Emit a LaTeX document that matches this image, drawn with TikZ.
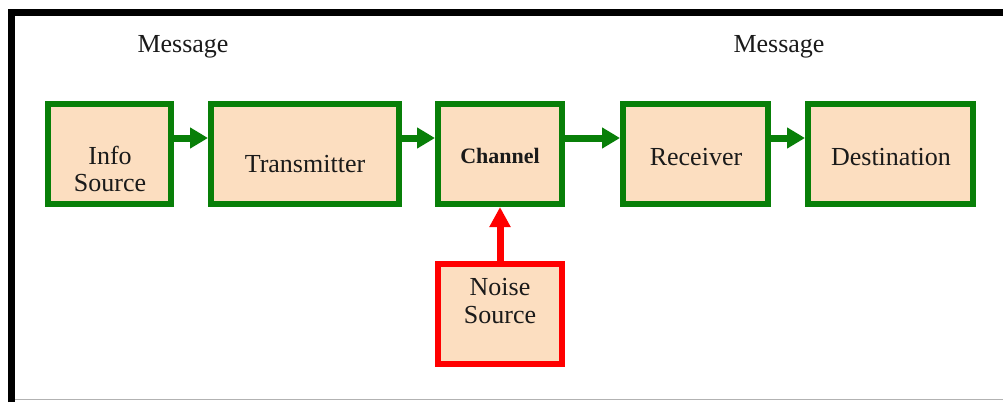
\documentclass[tikz,border=0pt]{standalone}
\usepackage{fontspec}
\setmainfont{Liberation Serif}
\usetikzlibrary{arrows.meta}
\definecolor{boxfill}{HTML}{FCDEC0}
\definecolor{boxgreen}{HTML}{087F08}
\definecolor{boxred}{HTML}{FF0000}
\definecolor{txt}{HTML}{1A1A1A}
\tikzset{
  box/.style={draw=boxgreen, line width=6pt, fill=boxfill, rectangle, inner sep=0pt},
  noisebox/.style={draw=boxred, line width=6pt, fill=boxfill, rectangle, inner sep=0pt},
  lbl/.style={anchor=base, inner sep=0pt, text=txt, font=\fontsize{26}{27}\selectfont},
  flow/.style={draw=boxgreen, line width=7pt, -{Triangle[length=18pt,width=20pt]}},
  noiseflow/.style={draw=boxred, line width=7pt, -{Triangle[length=20pt,width=20pt]}}
}
\begin{document}
\begin{tikzpicture}[x=1pt,y=-1pt]
\useasboundingbox (0,0) rectangle (1003,402);
\fill[white] (0,0) rectangle (1003,402);
% frame
\draw[gray!60, line width=1pt] (15,399.5) -- (1003,399.5);
\draw[black, line width=7pt] (11.5,402) -- (11.5,12.5) -- (1003,12.5);
% boxes
\node[box, minimum width=123pt, minimum height=100pt] (info) at (109.5,154) {};
\node[box, minimum width=188pt, minimum height=100pt] (trans) at (305,154) {};
\node[box, minimum width=124pt, minimum height=100pt] (chan) at (500,154) {};
\node[box, minimum width=145pt, minimum height=100pt] (recv) at (695.5,154) {};
\node[box, minimum width=165pt, minimum height=100pt] (dest) at (890.5,154) {};
\node[noisebox, minimum width=124pt, minimum height=100pt] (noise) at (500,314) {};
% texts
\node[lbl] (msg1) at (183,52) {Message};
\node[lbl] (msg2) at (779,52) {Message};
\node[lbl] (infoa) at (110,164) {Info};
\node[lbl] (infob) at (110,191) {Source};
\node[lbl] (transt) at (305,172) {Transmitter};
\node[lbl, font=\fontsize{22}{24}\selectfont\bfseries] (chant) at (500,163) {Channel};
\node[lbl] (recvt) at (696,165) {Receiver};
\node[lbl] (destt) at (891,165) {Destination};
\node[lbl] (noisea) at (500,295) {Noise};
\node[lbl] (noiseb) at (500,323) {Source};
% connectors
\draw[flow] (info.east |- 0,138) -- (trans.west |- 0,138);
\draw[flow] (trans.east |- 0,138) -- (chan.west |- 0,138);
\draw[flow] (chan.east |- 0,138) -- (recv.west |- 0,138);
\draw[flow] (recv.east |- 0,138) -- (dest.west |- 0,138);
\draw[noiseflow] (noise.north) -- (chan.south);
\end{tikzpicture}
\end{document}
